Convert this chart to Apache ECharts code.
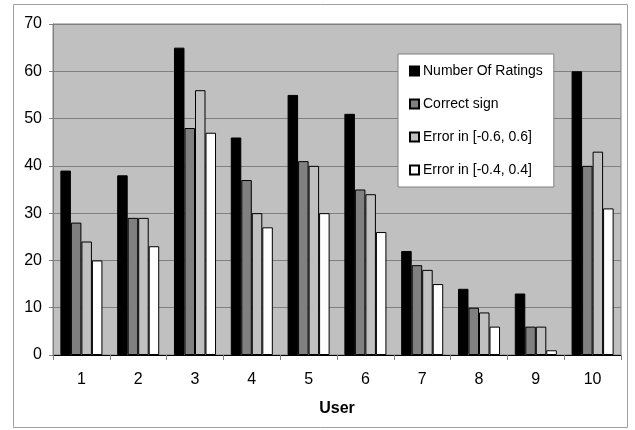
<!DOCTYPE html>
<html><head><meta charset="utf-8">
<script src="https://cdn.jsdelivr.net/npm/echarts@6/dist/echarts.min.js"></script>
<style>html,body{margin:0;padding:0;background:#fff}#c{width:635px;height:430px}</style>
</head><body><div id="c"></div>
<script>
var users = ['1','2','3','4','5','6','7','8','9','10'];
var numberOfRatings = [39, 38, 65, 46, 55, 51, 22, 14, 13, 60];
var correctSign = [28, 29, 48, 37, 41, 35, 19, 10, 6, 40];
var error06 = [24, 29, 56, 30, 40, 34, 18, 9, 6, 43];
var error04 = [20, 23, 47, 27, 30, 26, 15, 6, 1, 31];
var yTicks = [0, 10, 20, 30, 40, 50, 60, 70];

var font = 'Liberation Sans, Arial, sans-serif';
var chart = echarts.init(document.getElementById('c'), null, {renderer: 'canvas'});
function bar(name, data, color) {
  return {name: name, type: 'bar', data: data, barGap: '0%', barCategoryGap: '26%',
    itemStyle: {color: color, borderColor: '#000', borderWidth: 1}, emphasis: {disabled: true}};
}
chart.setOption({
  animation: false,
  graphic: [{type: 'rect', shape: {x: 13.5, y: 4.5, width: 614, height: 423}, style: {fill: 'none', stroke: '#a0a0a0', lineWidth: 1}, silent: true, z: -10}],
  grid: {left: 53, right: 14, top: 24, bottom: 75, show: true, backgroundColor: '#c0c0c0', borderColor: '#808080', borderWidth: 1},
  legend: {
    orient: 'vertical', left: 398, top: 54, backgroundColor: '#fff', borderColor: '#808080', borderWidth: 1,
    padding: [10, 11, 10, 11], itemGap: 19, itemWidth: 9, itemHeight: 9, icon: 'rect',
    textStyle: {fontFamily: font, fontSize: 14, color: '#000', padding: [0, 0, 0, -1]},
    data: ['Number Of Ratings', 'Correct sign', 'Error in [-0.6, 0.6]', 'Error in [-0.4, 0.4]']
  },
  xAxis: {
    type: 'category', data: users, boundaryGap: true,
    name: 'User', nameLocation: 'middle', nameGap: 46,
    nameTextStyle: {fontFamily: font, fontSize: 16, fontWeight: 'bold', color: '#000'},
    axisLine: {lineStyle: {color: '#000', width: 1}},
    axisTick: {show: true, length: 5, alignWithLabel: false, lineStyle: {color: '#808080'}},
    axisLabel: {fontFamily: font, fontSize: 16, color: '#000', margin: 17}
  },
  yAxis: {
    type: 'value', min: yTicks[0], max: yTicks[yTicks.length - 1], interval: 10,
    axisLine: {show: true, lineStyle: {color: '#808080'}},
    axisTick: {show: true, length: 4, lineStyle: {color: '#808080'}},
    axisLabel: {fontFamily: font, fontSize: 16, color: '#000', margin: 11},
    splitLine: {show: true, lineStyle: {color: '#808080', width: 1}}
  },
  series: [
    bar('Number Of Ratings', numberOfRatings, '#000000'),
    bar('Correct sign', correctSign, '#808080'),
    bar('Error in [-0.6, 0.6]', error06, '#c0c0c0'),
    bar('Error in [-0.4, 0.4]', error04, '#ffffff')
  ]
});
</script></body></html>
